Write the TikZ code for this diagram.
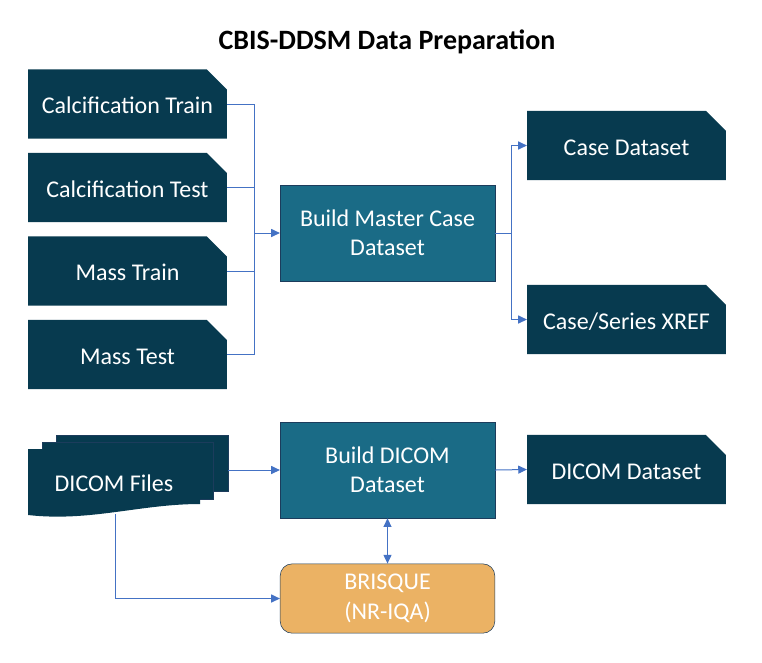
\documentclass[tikz,border=0pt]{standalone}
\usepackage{fontspec}
\setmainfont{Carlito}
\usepackage{xcolor}
\usepackage{tikz}
\usetikzlibrary{shapes.misc,arrows.meta,positioning}
\definecolor{navybox}{HTML}{073A4F}
\definecolor{navyedge}{HTML}{1C3C5C}
\definecolor{tealbox}{HTML}{1A6B86}
\definecolor{brisqueorange}{HTML}{EBB264}
\definecolor{linkblue}{HTML}{4472C4}
\tikzset{>={Triangle[length=6.5pt,width=6pt]}}
\tikzset{data node/.style={chamfered rectangle,chamfered rectangle corners=north east,
            chamfered rectangle sep=7.5pt,fill=navybox,text=white,
            text height=16.6pt,text depth=2pt,
            minimum width=149pt,minimum height=52pt,inner sep=0pt,font=\fontsize{18}{21}\selectfont},
         process node/.style={rectangle,fill=tealbox,draw=navyedge,text=white,align=center,
            minimum width=161pt,minimum height=72pt,font=\fontsize{18}{22}\selectfont},
         link/.style={draw=linkblue,line width=0.75pt},
            }

\begin{document}
\begin{tikzpicture}[x=0.75pt,y=-0.75pt]

    \useasboundingbox (0,0) rectangle (762,662);

    \node[font=\bfseries\fontsize{21}{24}\selectfont] (title) at (387,42) {CBIS-DDSM Data Preparation};

    \node[data node] (caltrain) at (127.5,104) {Calcification Train};
    \node[data node] (caltest) at (127.5,187.5) {Calcification Test};
    \node[data node] (masstrain) at (127.5,271) {Mass Train};
    \node[data node] (masstest) at (127.5,354.5) {Mass Test};

    \node[process node] (master) at (387.5,233) {Build Master Case\\Dataset};

    \node[data node] (casedata) at (626.5,145.5) {Case Dataset};
    \node[data node] (xref) at (626.5,319.5) {Case/Series XREF};

    % stacked DICOM files
    \path[fill=navybox,draw=navyedge,line width=0.5pt] (56,435) rectangle (228,491);
    \path[fill=navybox,draw=navyedge,line width=0.5pt] (42,442) rectangle (213,499);
    \path[fill=navybox] (28,449) -- (200,449) -- (200,504)
        .. controls (140,504) and (90,522) .. (28,515) -- cycle;
    \node[text=white,font=\fontsize{18}{21}\selectfont] (dicomfiles) at (114,483) {DICOM Files};

    \node[process node] (builddicom) at (387.5,470) {Build DICOM\\Dataset};
    \node[data node] (dicomset) at (626.5,469.5) {DICOM Dataset};
    \node[process node,rounded corners=9pt,fill=brisqueorange,minimum height=52pt] (brisque) at (387.5,598.5) {BRISQUE\\(NR-IQA)};

    \coordinate (busin) at (254,233);
    \coordinate (busout) at (511,233);
    \coordinate (filesout) at (228,470);
    \coordinate (filesdown) at (115,514);

    \path[link]
    (caltrain.east) -| (busin)
    (caltest.east) -| (busin)
    (masstrain.east) -| (busin)
    (masstest.east) -| (busin)
    (master.east) -- (busout);

    \draw[link,->] (busin) -- (master.west);
    \draw[link,->] (busout) |- (casedata.west);
    \draw[link,->] (busout) |- (xref.west);
    \draw[link,->] (filesout) -- (builddicom.west);
    \draw[link,->] (builddicom.east) -- (dicomset.west);
    \draw[link,->] (filesdown) |- (brisque.west);
    \draw[link,<->] (builddicom.south) -- (brisque.north);

\end{tikzpicture}
\end{document}
